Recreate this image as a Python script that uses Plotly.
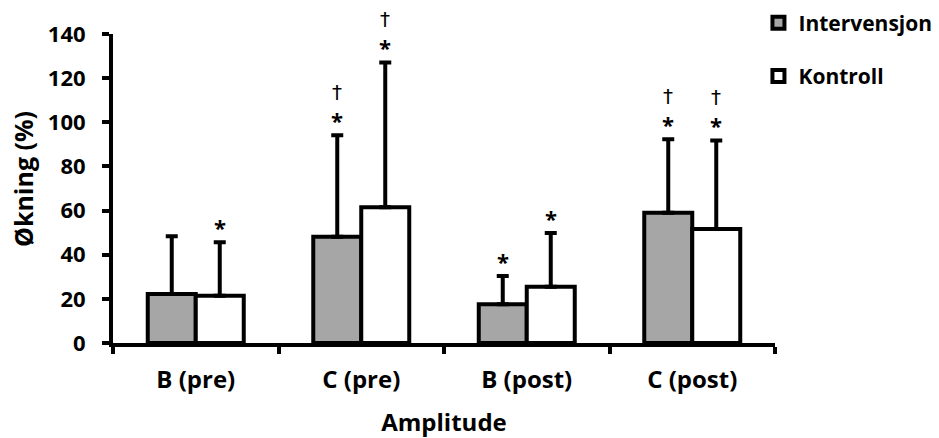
import plotly.graph_objects as go

categories = ["B (pre)", "C (pre)", "B (post)", "C (post)"]
intervensjon = [22.2, 48.1, 17.6, 59.0]
intervensjon_sd = [26.2, 46.0, 12.7, 33.3]
kontroll = [21.4, 61.5, 25.5, 51.6]
kontroll_sd = [24.3, 65.6, 24.3, 40.2]
intervensjon_marks = ["", "*†", "*", "*†"]
kontroll_marks = ["*", "*†", "*", "*†"]

FONT = "Open Sans"
bargap = 0.42

fig = go.Figure()
fig.add_trace(go.Bar(
    name="Intervensjon", x=categories, y=intervensjon,
    marker=dict(color="#a6a6a6", line=dict(color="black", width=4)),
    error_y=dict(type="data", array=intervensjon_sd, arrayminus=[0]*4, symmetric=False,
                 color="black", thickness=4, width=6),
    legendgroup="a",
))
fig.add_trace(go.Bar(
    name="Kontroll", x=categories, y=kontroll,
    marker=dict(color="white", line=dict(color="black", width=4)),
    error_y=dict(type="data", array=kontroll_sd, arrayminus=[0]*4, symmetric=False,
                 color="black", thickness=4, width=6),
    legendgroup="b",
))

half = (1 - bargap) / 4
annotations = []
for vals, sds, marks, sign in [(intervensjon, intervensjon_sd, intervensjon_marks, -1),
                               (kontroll, kontroll_sd, kontroll_marks, 1)]:
    for i, (v, s, m) in enumerate(zip(vals, sds, marks)):
        top = v + s
        if "*" in m:
            annotations.append(dict(x=i + sign * half, y=top, xref="x", yref="y", text="*",
                                    showarrow=False, yanchor="middle", yshift=15,
                                    font=dict(family=FONT, size=22, weight="bold", color="black")))
        if "†" in m:
            annotations.append(dict(x=i + sign * half, y=top, xref="x", yref="y", text="†",
                                    showarrow=False, yanchor="middle", yshift=43,
                                    font=dict(family="DejaVu Sans", size=20, color="black")))

# y-axis title, centred at about 23px / 179px of the figure as in the original
annotations.append(dict(xref="paper", yref="paper", x=(23 - 113) / 662, y=1 - (179 - 34) / 309,
                        text="Økning (%)", showarrow=False, textangle=-90,
                        xanchor="center", yanchor="middle",
                        font=dict(family=FONT, size=25, weight="bold", color="black")))

fig.update_layout(
    width=939, height=438,
    margin=dict(l=113, r=164, t=34, b=95, autoexpand=False),
    paper_bgcolor="white", plot_bgcolor="white",
    barmode="group", bargap=bargap, bargroupgap=0,
    showlegend=True,
    legend=dict(x=0.975, y=1.102, xanchor="left", yanchor="top",
                font=dict(family=FONT, size=21, weight="bold", color="black"),
                traceorder="grouped", tracegroupgap=23, bgcolor="rgba(0,0,0,0)"),
    annotations=annotations,
    font=dict(family=FONT, color="black"),
)
fig.update_xaxes(
    showline=True, linecolor="black", linewidth=4,
    ticks="outside", tickson="boundaries", ticklen=7, tickwidth=4, tickcolor="black",
    ticklabelstandoff=12,
    tickfont=dict(family=FONT, size=24, weight="bold", color="black"),
    title=dict(text="Amplitude", font=dict(family=FONT, size=24, weight="bold", color="black"), standoff=27),
    showgrid=False, zeroline=False,
)
fig.update_yaxes(
    range=[0, 140], dtick=20,
    showline=True, linecolor="black", linewidth=4,
    ticks="outside", ticklen=7, tickwidth=4, tickcolor="black",
    ticklabelstandoff=12,
    tickfont=dict(family=FONT, size=22, weight="bold", color="black"),
    showgrid=False, zeroline=False,
)

fig.write_html("out.html", config={"displayModeBar": False},
               post_script="document.body.style.margin='0';")
